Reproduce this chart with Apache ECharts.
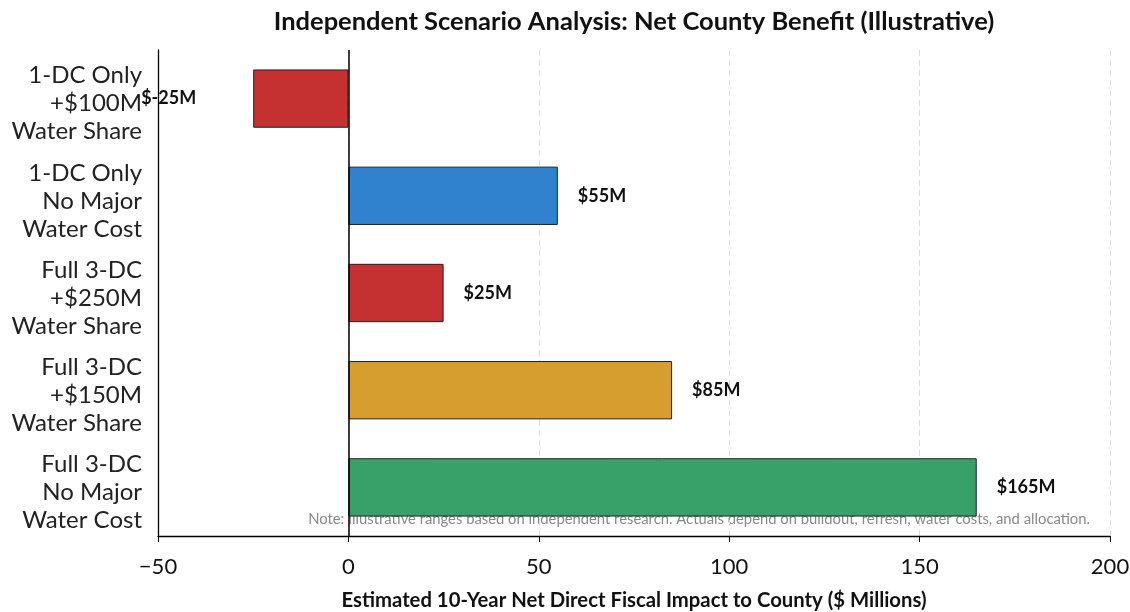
<!DOCTYPE html>
<html><head><meta charset="utf-8">
<script src="https://cdn.jsdelivr.net/npm/echarts@6/dist/echarts.min.js"></script>
<style>html,body{margin:0;padding:0;background:#fff}#c{width:1130px;height:612px}</style>
</head><body><div id="c"></div>
<script>
const categories = ["1-DC Only\n+$100M\nWater Share", "1-DC Only\nNo Major\nWater Cost", "Full 3-DC\n+$250M\nWater Share", "Full 3-DC\n+$150M\nWater Share", "Full 3-DC\nNo Major\nWater Cost"];
const values = [-25, 55, 25, 85, 165];
const colors = ["#c53030", "#3182ce", "#c53030", "#d69e2e", "#38a169"];
const xTicks = [-50, 0, 50, 100, 150, 200];
const FONT = "Lato";
const chart = echarts.init(document.getElementById('c'));
chart.setOption({
  animation: false,
  grid: {left: 158, right: 20, top: 50, bottom: 76, outerBoundsMode: 'none', containLabel: false},
  xAxis: {type: 'value', min: -50, max: 200, interval: 50,
    name: "Estimated 10-Year Net Direct Fiscal Impact to County ($ Millions)", nameLocation: 'middle', nameGap: 54,
    nameTextStyle: {fontFamily: FONT, fontSize: 20.3, fontWeight: 'bold', color: '#111'},
    axisLine: {show: true, lineStyle: {color: '#000', width: 1.3}},
    axisTick: {show: true, length: 6, lineStyle: {color: '#000'}},
    axisLabel: {fontFamily: FONT, fontSize: 22, color: '#111', margin: 20, formatter: v => v < 0 ? '\u2212' + Math.abs(v) : String(v)},
    splitLine: {show: true, lineStyle: {color: '#dcdcdc', type: [6, 4], width: 1}}},
  yAxis: {type: 'category', data: categories, inverse: true,
    axisLine: {show: true, onZero: false, lineStyle: {color: '#000', width: 1.3}},
    axisTick: {show: false},
    axisLabel: {interval: 0, hideOverlap: false, fontFamily: FONT, fontSize: 24, color: '#222', lineHeight: 28, align: 'right', margin: 16,
      formatter: v => '{p| }\n' + v.split('\n').map(l => '{a|' + l + '}').join('\n'),
      rich: {p: {fontSize: 1, lineHeight: 10}, a: {fontFamily: FONT, fontSize: 24, color: '#222', lineHeight: 28, align: 'right'}}}},
  series: [{type: 'bar', barWidth: '60%',
    data: values.map((v, i) => ({value: v, itemStyle: {color: colors[i], borderColor: '#222', borderWidth: 1},
      label: v < 0 ? {position: 'left', distance: 57} : {position: 'right', distance: 20}})),
    label: {show: true, fontFamily: FONT, fontSize: 18, fontWeight: 'bold', color: '#111', formatter: p => '$' + p.value + 'M'},
    markLine: {silent: true, symbol: 'none', label: {show: false}, lineStyle: {color: '#000', type: 'solid', width: 1.5},
      data: [{xAxis: 0}]}
  }],
  graphic: [
    {type: 'text', x: 634, y: 9,
      style: {text: "Independent Scenario Analysis: Net County Benefit (Illustrative)", fontFamily: FONT, fontSize: 25.5, fontWeight: 'bold', fill: '#111', textAlign: 'center'}},
    {type: 'text', right: 40, top: 512,
    style: {text: "Note: Illustrative ranges based on independent research. Actuals depend on buildout, refresh, water costs, and allocation.",
      fontFamily: FONT, fontSize: 14.8, fill: '#888', textAlign: 'right'}}]
});
</script></body></html>
